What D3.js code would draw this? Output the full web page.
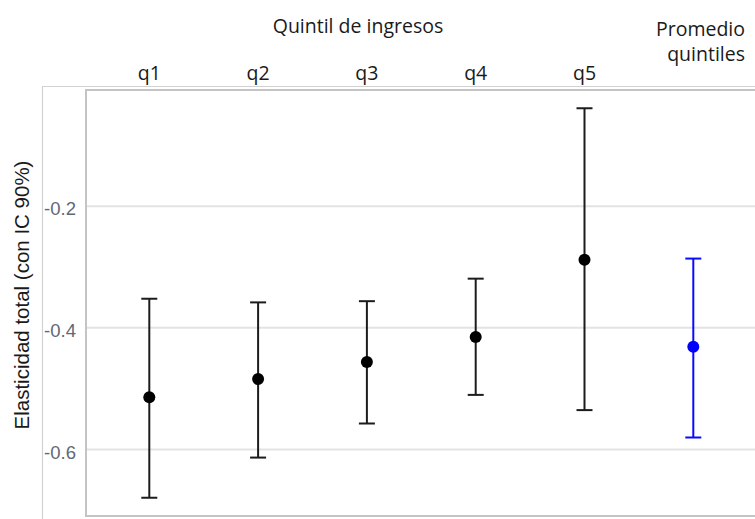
<!DOCTYPE html>
<html>
<head>
<meta charset="utf-8">
<script src="https://cdn.jsdelivr.net/npm/d3@7/dist/d3.min.js"></script>
<style>
  html, body { margin: 0; padding: 0; background: #ffffff; }
  svg { display: block; }
</style>
</head>
<body>
<div id="chart"></div>
<script>
// Income-quintile elasticities with 90% confidence intervals
const categories = ["q1", "q2", "q3", "q4", "q5", "prom"];
const categoryLabels = [["q1"], ["q2"], ["q3"], ["q4"], ["q5"], ["Promedio", "quintiles"]];
const estimates = [-0.515, -0.485, -0.457, -0.416, -0.289, -0.432];
const lowerCI   = [-0.680, -0.614, -0.558, -0.511, -0.536, -0.581];
const upperCI   = [-0.353, -0.359, -0.357, -0.320, -0.040, -0.287];
const groups    = ["quintil", "quintil", "quintil", "quintil", "quintil", "promedio"];
const yTicks    = [-0.2, -0.4, -0.6];
const yTickLabels = ["-0.2", "-0.4", "-0.6"];
const headerTitle = "Quintil de ingresos";
const yTitle = "Elasticidad total (con IC 90%)";

const W = 755, H = 519;
const plot = { left: 86, top: 90, right: 760, bottom: 516 };

const svg = d3.select("#chart").append("svg")
  .attr("width", W).attr("height", H);

const x = d3.scalePoint().domain(categories).range([149.3, 693.3]);
const y = d3.scaleLinear().domain([-0.71, -0.01]).range([plot.bottom, plot.top]);
const color = d3.scaleOrdinal().domain(["quintil", "promedio"]).range(["#1c1c1c", "#0a0aff"]);
const dotColor = d3.scaleOrdinal().domain(["quintil", "promedio"]).range(["#000000", "#0000ff"]);

// outer frame lines
svg.append("line").attr("x1", 42.5).attr("x2", 42.5).attr("y1", 86.5).attr("y2", H)
  .attr("stroke", "#d2d2d2").attr("stroke-width", 1.2);
svg.append("line").attr("x1", 42).attr("x2", W).attr("y1", 86.5).attr("y2", 86.5)
  .attr("stroke", "#d2d2d2").attr("stroke-width", 1.2);

// gridlines
const grid = svg.append("g")
  .attr("transform", `translate(${plot.left},0)`)
  .call(d3.axisRight(y).tickValues(yTicks).tickSize(W - plot.left).tickFormat(""));
grid.select(".domain").remove();
grid.selectAll(".tick line").attr("stroke", "#e3e3e3").attr("stroke-width", 2);

// plot border (left, top, bottom)
svg.append("path")
  .attr("d", `M${W},${plot.top}H${plot.left}V${plot.bottom}H${W}`)
  .attr("fill", "none").attr("stroke", "#c4c4c4").attr("stroke-width", 2);

// y axis tick labels
const yAxis = svg.append("g")
  .attr("transform", `translate(76,0)`)
  .call(d3.axisLeft(y).tickValues(yTicks).tickSize(0).tickPadding(0)
    .tickFormat((d, i) => yTickLabels[i]));
yAxis.select(".domain").remove();
yAxis.selectAll("text")
  .attr("font-family", "'Liberation Sans', Arial, sans-serif")
  .attr("font-size", 18.5)
  .attr("fill", "#5e6a76")
  .attr("dy", "0.5em");

// y axis title
svg.append("text")
  .attr("transform", `translate(28.5,295) rotate(-90)`)
  .attr("text-anchor", "middle")
  .attr("font-family", "'Liberation Sans', Arial, sans-serif")
  .attr("font-size", 20.5)
  .attr("fill", "#1a1a1a")
  .text(yTitle);

// header
const headerFont = "'Open Sans', 'Noto Sans', sans-serif";
svg.append("text")
  .attr("x", 358).attr("y", 33)
  .attr("text-anchor", "middle")
  .attr("font-family", headerFont).attr("font-size", 19.5).attr("fill", "#1a1a1a")
  .text(headerTitle);

categories.forEach((c, i) => {
  const lines = categoryLabels[i];
  if (lines.length === 1) {
    svg.append("text")
      .attr("x", x(c)).attr("y", 80)
      .attr("text-anchor", "middle")
      .attr("font-family", headerFont).attr("font-size", 19.5).attr("fill", "#1a1a1a")
      .text(lines[0]);
  } else {
    const t = svg.append("text")
      .attr("text-anchor", "end")
      .attr("font-family", headerFont).attr("font-size", 19.5).attr("fill", "#1a1a1a");
    lines.forEach((ln, k) => {
      t.append("tspan").attr("x", 745).attr("y", 36 + k * 25).text(ln);
    });
  }
});

// error bars
const capHalf = 8;
const bars = svg.append("g").selectAll("g").data(categories).join("g");
bars.append("line")
  .attr("x1", d => x(d)).attr("x2", d => x(d))
  .attr("y1", (d, i) => y(upperCI[i])).attr("y2", (d, i) => y(lowerCI[i]))
  .attr("stroke", (d, i) => color(groups[i])).attr("stroke-width", 2);
bars.append("line")
  .attr("x1", d => x(d) - capHalf).attr("x2", d => x(d) + capHalf)
  .attr("y1", (d, i) => y(upperCI[i])).attr("y2", (d, i) => y(upperCI[i]))
  .attr("stroke", (d, i) => color(groups[i])).attr("stroke-width", 2);
bars.append("line")
  .attr("x1", d => x(d) - capHalf).attr("x2", d => x(d) + capHalf)
  .attr("y1", (d, i) => y(lowerCI[i])).attr("y2", (d, i) => y(lowerCI[i]))
  .attr("stroke", (d, i) => color(groups[i])).attr("stroke-width", 2);
bars.append("circle")
  .attr("cx", d => x(d)).attr("cy", (d, i) => y(estimates[i]))
  .attr("r", 6)
  .attr("fill", (d, i) => dotColor(groups[i]));
</script>
</body>
</html>
